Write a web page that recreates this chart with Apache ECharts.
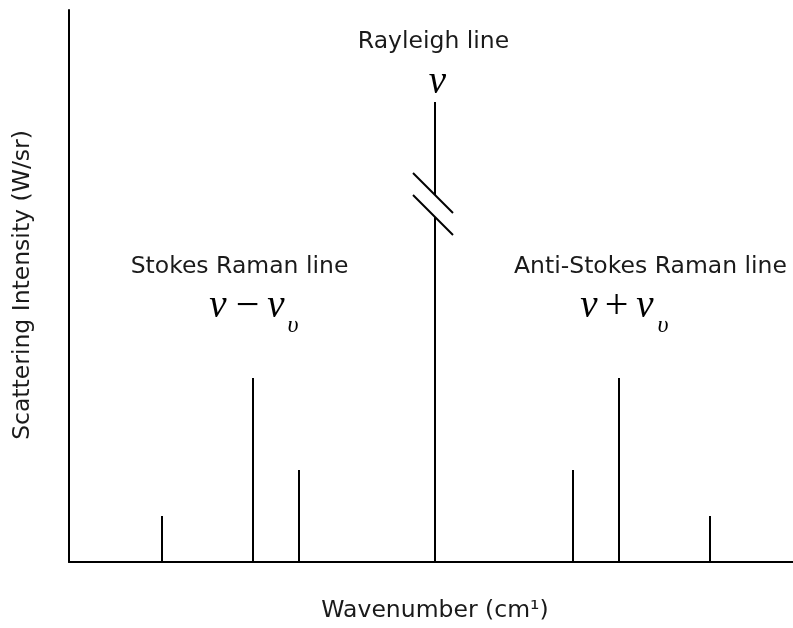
<!DOCTYPE html>
<html>
<head>
<meta charset="utf-8">
<title>Raman scattering spectrum</title>
<script src="https://cdn.jsdelivr.net/npm/echarts@6.0.0/dist/echarts.min.js"></script>
<style>
  html, body { margin: 0; padding: 0; background: #fff; }
  #chart { width: 793px; height: 628px; }
</style>
</head>
<body>
<div id="chart"></div>
<script>
// Wavenumber shift of each line relative to the Rayleigh line (arbitrary units)
const shifts = [-273, -182, -136, 0, 138, 184, 275];
// Relative scattering intensity of each line
const intensities = [1, 4, 2, 10, 2, 4, 1];
// Interval where the tall Rayleigh line is broken
const breakGap = [7.5, 7.98];
// Axis extents
const xRange = [-366, 358];
const yRange = [0, 12];

const sansFont = '"DejaVu Sans", "Liberation Sans", sans-serif';
const serifFont = '"Liberation Serif", "DejaVu Serif", serif';

const chart = echarts.init(document.getElementById('chart'), null, { renderer: 'canvas' });

const lineStyle = { stroke: '#000', lineWidth: 2 };

function seg(a, b) {
  return { type: 'line', shape: { x1: a[0], y1: a[1], x2: b[0], y2: b[1] }, style: lineStyle };
}

// A short 45° slash drawn through a point on a broken line
function slash(p) {
  return seg([p[0] - 22, p[1] - 22], [p[0] + 18, p[1] + 18]);
}

function renderLine(params, api) {
  const x = api.value(0);
  const h = api.value(1);
  const base = api.coord([x, 0]);
  const top = api.coord([x, h]);
  if (h > breakGap[1]) {
    const lo = api.coord([x, breakGap[0]]);
    const hi = api.coord([x, breakGap[1]]);
    return {
      type: 'group',
      children: [seg(base, lo), seg(hi, top), slash(hi), slash(lo)]
    };
  }
  return seg(base, top);
}

function label(x, y, text, rotation) {
  return {
    type: 'text', x: x, y: y, rotation: rotation || 0,
    style: {
      text: text, fill: '#1a1a1a', font: '23.5px ' + sansFont,
      align: 'center', verticalAlign: 'middle'
    }
  };
}

// Italic symbol (ν, υ)
function sym(x, y, text, size) {
  return {
    type: 'text', x: x, y: y,
    style: {
      text: text, fill: '#000', font: 'italic ' + size + 'px ' + serifFont,
      align: 'center', verticalAlign: 'middle'
    }
  };
}

// Upright operator (−, +)
function op(x, y, text) {
  return {
    type: 'text', x: x, y: y,
    style: {
      text: text, fill: '#000', font: '42px ' + serifFont,
      align: 'center', verticalAlign: 'middle'
    }
  };
}

chart.setOption({
  animation: false,
  backgroundColor: '#fff',
  grid: { left: 69, right: 0, top: 10, bottom: 66, containLabel: false },
  xAxis: {
    type: 'value', min: xRange[0], max: xRange[1],
    axisLine: { show: true, onZero: false, lineStyle: { color: '#000', width: 2 } },
    axisTick: { show: false }, axisLabel: { show: false }, splitLine: { show: false }
  },
  yAxis: {
    type: 'value', min: yRange[0], max: yRange[1],
    axisLine: { show: true, onZero: false, lineStyle: { color: '#000', width: 2 } },
    axisTick: { show: false }, axisLabel: { show: false }, splitLine: { show: false }
  },
  series: [{
    type: 'custom',
    renderItem: renderLine,
    data: shifts.map((s, i) => [s, intensities[i]]),
    clip: false,
    silent: true
  }],
  graphic: [
    label(433.5, 42, 'Rayleigh line'),
    sym(437.5, 83, 'ν', 39),

    label(239.5, 267, 'Stokes Raman line'),
    sym(218, 307, 'ν', 39),
    op(247.5, 307, '−'),
    sym(276, 307, 'ν', 39),
    sym(293, 326, 'υ', 24),

    label(650.5, 267, 'Anti-Stokes Raman line'),
    sym(589, 307, 'ν', 39),
    op(616.5, 307, '+'),
    sym(645, 307, 'ν', 39),
    sym(663, 326, 'υ', 24),

    label(435, 611, 'Wavenumber (cm¹)'),
    label(23, 285, 'Scattering Intensity (W/sr)', Math.PI / 2)
  ]
});
</script>
</body>
</html>
